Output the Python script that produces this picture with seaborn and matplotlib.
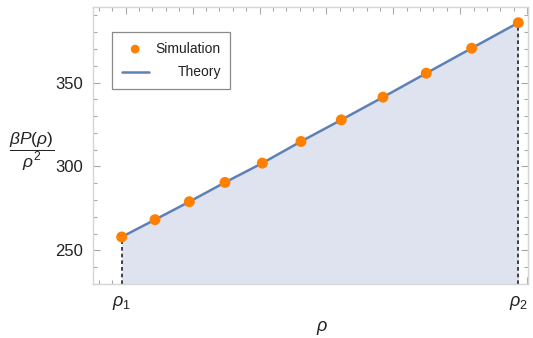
import matplotlib
matplotlib.use("Agg")
import matplotlib.pyplot as plt
import matplotlib.transforms as mtransforms
from matplotlib import font_manager
from matplotlib.ticker import MultipleLocator, FixedLocator, NullFormatter
import pandas as pd
import seaborn as sns

# Density grid (arbitrary units), simulated and theoretical reduced pressure
rho = [-0.060, 0.438, 0.951, 1.484, 2.042, 2.620, 3.223, 3.846, 4.493, 5.172, 5.869]
simulation = [258.0, 268.3, 279.0, 290.5, 302.0, 314.9, 327.8, 341.3, 355.6, 370.5, 385.7]
theory = [258.0, 268.3, 279.0, 290.5, 302.0, 314.9, 327.8, 341.3, 355.6, 370.5, 385.7]
y_ticks = [250, 300, 350]
rho_labels = [r"$\rho_{\mathit{1}}$", r"$\rho_{\mathit{2}}$"]

sns.set_style("ticks")

names = {f.name for f in font_manager.fontManager.ttflist}
base = "Liberation Sans Narrow" if "Liberation Sans Narrow" in names else "Liberation Sans"
plt.rcParams["font.family"] = [base, "DejaVu Sans"]
plt.rcParams["mathtext.fontset"] = "custom"
plt.rcParams["mathtext.rm"] = base
plt.rcParams["mathtext.it"] = f"{base}:italic"
plt.rcParams["mathtext.bf"] = f"{base}:bold"

ORANGE = "#ff8000"
BLUE = "#5e81b5"
FILL = "#dee3ef"
SPINE = "#d6d6d6"
TICK = "#a8a8a8"
YMIN, YMAX = 230, 395
XMIN, XMAX = -0.493, 6.009

df = pd.DataFrame({"rho": rho, "simulation": simulation, "theory": theory})

fig = plt.figure(figsize=(5.33, 3.38), dpi=100)
ax = fig.add_axes([0.174, 0.160, 0.816, 0.819])

ax.fill_between(df["rho"], df["theory"], YMIN, color=FILL, lw=0, zorder=1)
ax.vlines([rho[0], rho[-1]], YMIN, [theory[0], theory[-1]], colors="#222222",
          linestyles=(0, (2.2, 1.8)), lw=1.2, zorder=2)
sns.lineplot(data=df, x="rho", y="theory", color=BLUE, lw=1.8, ax=ax,
             label="Theory", zorder=3)
sns.scatterplot(data=df, x="rho", y="simulation", color=ORANGE, s=62,
                edgecolor="none", ax=ax, label="Simulation", zorder=4)

ax.set_xlim(XMIN, XMAX)
ax.set_ylim(YMIN, YMAX)

# Frame ticks on all four sides, pointing inwards
ax.xaxis.set_major_locator(MultipleLocator(1))
ax.xaxis.set_minor_locator(MultipleLocator(0.2))
ax.xaxis.set_major_formatter(NullFormatter())
ax.yaxis.set_major_locator(FixedLocator(y_ticks))
ax.yaxis.set_minor_locator(MultipleLocator(10))
ax.tick_params(which="both", direction="in", top=True, right=True,
               color=TICK, width=0.8)
ax.tick_params(which="major", length=5)
ax.tick_params(which="minor", length=3)
ax.tick_params(axis="y", which="major", labelsize=12, pad=7, labelcolor="#222222")
for s in ax.spines.values():
    s.set_color(SPINE)
    s.set_linewidth(1.0)

# Endpoint labels under the dashed markers
trans = mtransforms.blended_transform_factory(ax.transData, ax.transAxes)
for xv, lab in zip([rho[0], rho[-1]], rho_labels):
    ax.text(xv, -0.038, lab, transform=trans, ha="center", va="top",
            fontsize=13, color="#222222")

ax.set_xlabel(r"$\rho$", fontsize=13, color="#222222")
ax.xaxis.set_label_coords(0.527, -0.125)
ax.set_ylabel(r"$\dfrac{\beta P(\rho)}{\rho^2}$", fontsize=12.5, rotation=0,
              ha="center", va="center", color="#222222")
ax.yaxis.set_label_coords(-0.14, 0.477)

handles, labels = ax.get_legend_handles_labels()
order = [labels.index("Simulation"), labels.index("Theory")]
leg = ax.legend([handles[i] for i in order], [labels[i] for i in order],
                loc="upper left", bbox_to_anchor=(0.044, 0.91), fontsize=10,
                frameon=True, fancybox=False, edgecolor="#8a8a8a",
                framealpha=1, borderpad=0.7, handlelength=1.95,
                handletextpad=0.5, labelspacing=0.7, borderaxespad=0,
                markerscale=0.8)
leg.get_frame().set_linewidth(0.9)

# Right-align the legend entries
fig.canvas.draw()
renderer = fig.canvas.get_renderer()
texts = leg.get_texts()
widths = [t.get_window_extent(renderer).width for t in texts]
wmax = max(widths)
for t, w in zip(texts, widths):
    t.set_x(wmax - w)
    t.set_color("#222222")

fig.savefig("out.png", dpi=100)
